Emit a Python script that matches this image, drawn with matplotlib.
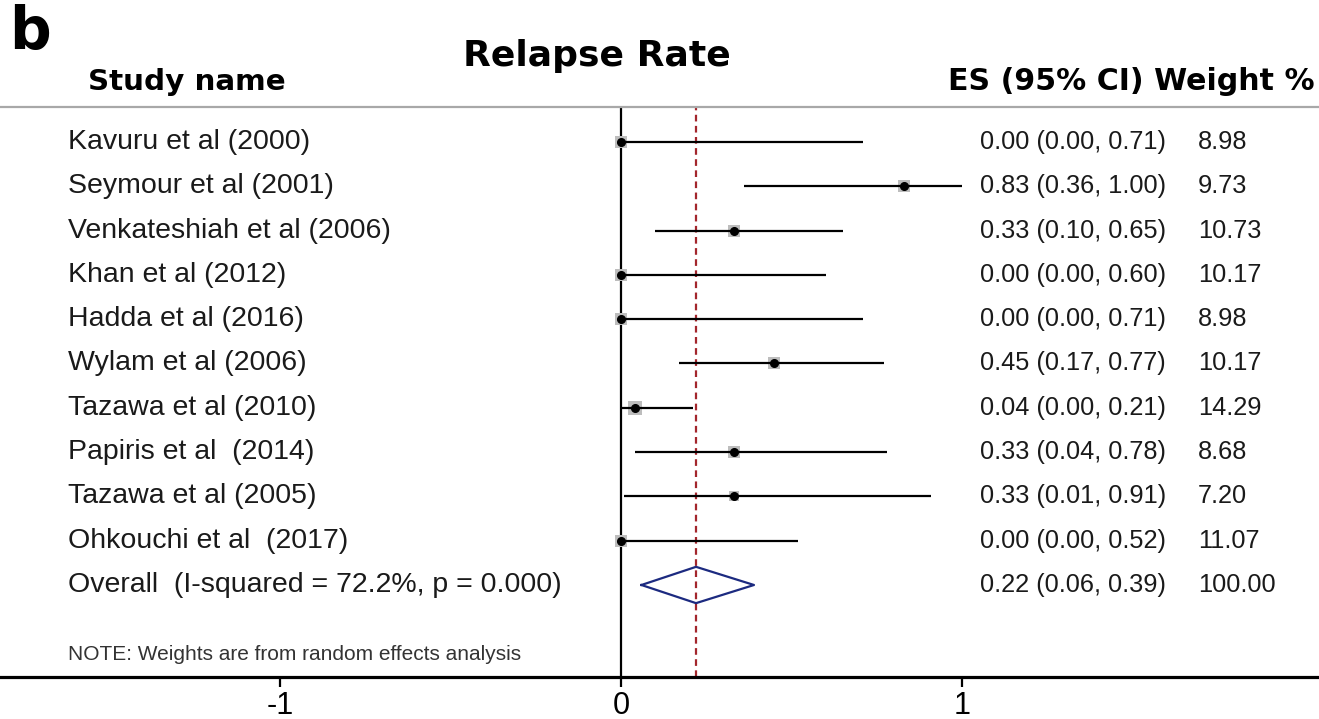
import matplotlib
matplotlib.use('Agg')
import matplotlib.pyplot as plt
import matplotlib.transforms as mtransforms
import numpy as np

# study data
studies = ['Kavuru et al (2000)', 'Seymour et al (2001)', 'Venkateshiah et al (2006)',
           'Khan et al (2012)', 'Hadda et al (2016)', 'Wylam et al (2006)',
           'Tazawa et al (2010)', 'Papiris et al  (2014)', 'Tazawa et al (2005)',
           'Ohkouchi et al  (2017)']
es = [0.00, 0.83, 0.33, 0.00, 0.00, 0.45, 0.04, 0.33, 0.33, 0.00]
ci_low = [0.00, 0.36, 0.10, 0.00, 0.00, 0.17, 0.00, 0.04, 0.01, 0.00]
ci_high = [0.71, 1.00, 0.65, 0.60, 0.71, 0.77, 0.21, 0.78, 0.91, 0.52]
weights = [8.98, 9.73, 10.73, 10.17, 8.98, 10.17, 14.29, 8.68, 7.20, 11.07]

overall_label = 'Overall  (I-squared = 72.2%, p = 0.000)'
overall_es = 0.22
overall_low = 0.06
overall_high = 0.39
overall_weight = 100.00

x_ticks = [-1, 0, 1]

BODY_FONT = 'Liberation Sans'
HEAD_FONT = 'DejaVu Sans'

W, H = 1319, 719
fig = plt.figure(figsize=(W / 100, H / 100), dpi=100)
ax = fig.add_axes([0, (H - 677) / H, 1, (677 - 107) / H])

rows = np.arange(len(studies))
overall_row = len(studies)

# confidence intervals, weight squares, point estimates
for y, e, lo, hi, w in zip(rows, es, ci_low, ci_high, weights):
    ax.plot([lo, hi], [y, y], color='black', lw=1.6, zorder=3, solid_capstyle='butt')
    side = 2.7 * np.sqrt(w)
    ax.scatter([e], [y], marker='s', s=side ** 2, color='#bdbdbd', zorder=2, linewidths=0)
    ax.plot([e], [y], marker='o', markersize=5.5, color='black', zorder=4)

# overall diamond
dx = [overall_low, overall_es, overall_high, overall_es, overall_low]
dy = [overall_row, overall_row - 0.41, overall_row, overall_row + 0.41, overall_row]
ax.plot(dx, dy, color='#1c2a80', lw=1.6, zorder=4)

ax.axvline(0, color='black', lw=1.6, zorder=1)
ax.axvline(overall_es, color='#a3262c', lw=1.6, ls=(0, (3, 2)), zorder=1)

ax.set_xlim(-621 / 341, 698 / 341)
ax.set_ylim(12.077, -0.790)

ax.set_xticks(x_ticks)
ax.set_xticklabels([str(t) for t in x_ticks], fontsize=22, family=BODY_FONT)
ax.tick_params(axis='x', length=7, width=1.6, pad=3, direction='out')
ax.set_yticks([])
ax.spines['left'].set_visible(False)
ax.spines['right'].set_visible(False)
ax.spines['top'].set_color('#a8a8a8')
ax.spines['top'].set_linewidth(1.6)
ax.spines['bottom'].set_linewidth(2.3)

# text columns
tr = mtransforms.blended_transform_factory(ax.transAxes, ax.transData)
names = dict(fontsize=20.5, family=BODY_FONT, va='center', transform=tr, color='#1a1a1a')
nums = dict(fontsize=18.3, family=BODY_FONT, va='center', transform=tr, color='#1a1a1a')
for y, name, e, lo, hi, w in zip(rows, studies, es, ci_low, ci_high, weights):
    ax.text(68 / W, y, name, **names)
    ax.text(980 / W, y, f'{e:.2f} ({lo:.2f}, {hi:.2f})', **nums)
    ax.text(1198 / W, y, f'{w:.2f}', **nums)
ax.text(68 / W, overall_row, overall_label, **names)
ax.text(980 / W, overall_row, f'{overall_es:.2f} ({overall_low:.2f}, {overall_high:.2f})', **nums)
ax.text(1198 / W, overall_row, f'{overall_weight:.2f}', **nums)

ax.text(68 / W, 11.58, 'NOTE: Weights are from random effects analysis',
        fontsize=15, family=BODY_FONT, va='center', transform=tr, color='#333333')

# headers
fig.text(9 / W, 1 - 33 / H, 'b', fontsize=42, fontweight='bold', family=HEAD_FONT,
         va='center', ha='left')
fig.text(597 / W, 1 - 56 / H, 'Relapse Rate', fontsize=26, fontweight='bold',
         family=HEAD_FONT, va='center', ha='center')
fig.text(88 / W, 1 - 82 / H, 'Study name', fontsize=21.2, fontweight='bold',
         family=HEAD_FONT, va='center', ha='left')
fig.text(1315 / W, 1 - 82 / H, 'ES (95% CI) Weight %', fontsize=21.6, fontweight='bold',
         family=HEAD_FONT, va='center', ha='right')

fig.savefig('out.png', dpi=100)
